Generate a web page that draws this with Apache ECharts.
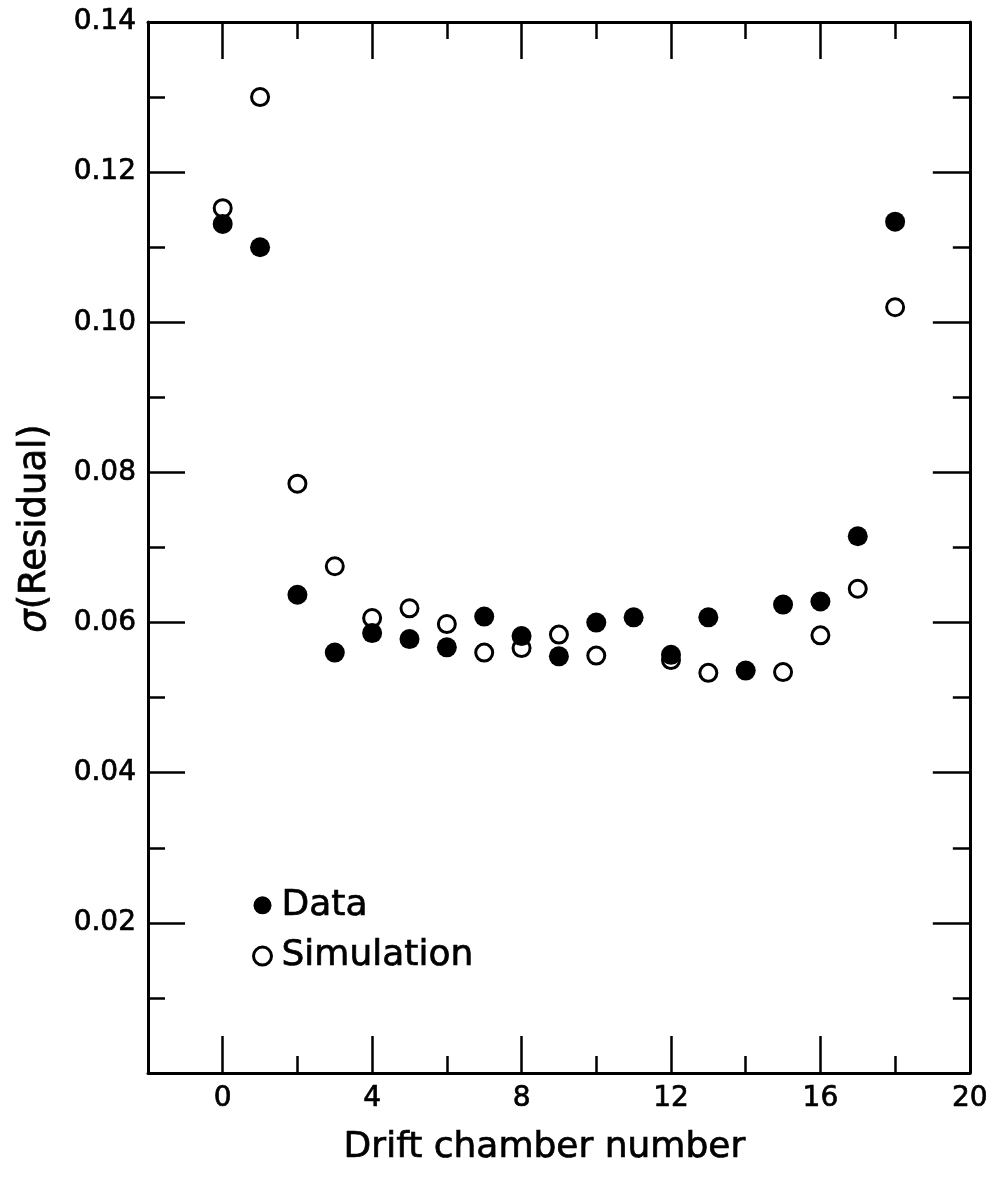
<!DOCTYPE html>
<html>
<head>
<meta charset="utf-8">
<script src="https://cdn.jsdelivr.net/npm/echarts@6/dist/echarts.min.js"></script>
<style>
  html, body { margin: 0; padding: 0; background: #ffffff; }
  #chart { width: 991px; height: 1182px; }
</style>
</head>
<body>
<div id="chart"></div>
<script>
// Drift chamber index
const chambers = [0, 1, 2, 3, 4, 5, 6, 7, 8, 9, 10, 11, 12, 13, 14, 15, 16, 17, 18];
// Measured residual width per chamber
const dataSigma = [0.1131, 0.1100, 0.0637, 0.0560, 0.0586, 0.0578, 0.0567, 0.0608, 0.0582, 0.0555,
                   0.0600, 0.0607, 0.0557, 0.0607, 0.0536, 0.0624, 0.0628, 0.0715, 0.1134];
// Simulated residual width per chamber (null where no point is shown)
const simSigma = [0.1152, 0.1300, 0.0785, 0.0675, 0.0606, 0.0619, 0.0598, 0.0560, 0.0566, 0.0584,
                  0.0556, null, 0.0550, 0.0533, null, 0.0534, 0.0583, 0.0645, 0.1020];

// Axis ticks and labels
const xMajorTicks = [0, 4, 8, 12, 16, 20];
const xMinorTicks = [2, 6, 10, 14, 18];
const yMajorTicks = [0.02, 0.04, 0.06, 0.08, 0.10, 0.12, 0.14];
const yMinorTicks = [0.01, 0.03, 0.05, 0.07, 0.09, 0.11, 0.13];

const FONT = 'DejaVu Sans';
const INK = '#000000';
// a thin outline in the text colour gives the lettering a heavier weight
const HEAVY = { textBorderColor: INK, textBorderWidth: 0.7 };

const toPairs = (ys) => chambers.map((c, i) => [c, ys[i]]).filter(p => p[1] !== null);

function xAxisDef(position, ticks, len, withLine, withLabels) {
  return {
    type: 'value', position: position, min: -2, max: 20,
    splitLine: { show: false },
    axisLine: { show: withLine, onZero: false, lineStyle: { color: INK, width: 3 } },
    axisTick: { show: true, inside: true, length: len, customValues: ticks,
                lineStyle: { color: INK, width: 2.5 } },
    axisLabel: withLabels ? Object.assign({
      show: true, customValues: xMajorTicks, margin: 12,
      color: INK, fontFamily: FONT, fontSize: 28
    }, HEAVY) : { show: false }
  };
}

function yAxisDef(position, ticks, len, withLine, withLabels) {
  return {
    type: 'value', position: position, min: 0, max: 0.14,
    splitLine: { show: false },
    axisLine: { show: withLine, onZero: false, lineStyle: { color: INK, width: 3 } },
    axisTick: { show: true, inside: true, length: len, customValues: ticks,
                lineStyle: { color: INK, width: 2.5 } },
    axisLabel: withLabels ? Object.assign({
      show: true, customValues: yMajorTicks, margin: 12,
      color: INK, fontFamily: FONT, fontSize: 28,
      formatter: (v) => v.toFixed(2)
    }, HEAVY) : { show: false }
  };
}

const xBottom = xAxisDef('bottom', xMajorTicks, 37, true, true);
xBottom.name = 'Drift chamber number';
xBottom.nameLocation = 'middle';
xBottom.nameGap = 57;
xBottom.nameTextStyle = Object.assign({ color: INK, fontFamily: FONT, fontSize: 36, padding: [0, 29, 0, 0] }, HEAVY);

const yLeft = yAxisDef('left', yMajorTicks, 37, true, true);
yLeft.name = '{s|σ}(Residual)';
yLeft.nameLocation = 'middle';
yLeft.nameGap = 94;
yLeft.nameTextStyle = Object.assign({
  color: INK, fontFamily: FONT, fontSize: 37, padding: [0, 0, 0, 38],
  rich: { s: Object.assign({ color: INK, fontFamily: FONT, fontSize: 37, fontStyle: 'italic' }, HEAVY) }
}, HEAVY);

const chart = echarts.init(document.getElementById('chart'), null, { renderer: 'canvas' });
chart.setOption({
  animation: false,
  backgroundColor: '#ffffff',
  grid: { left: 148, right: 15, top: 22, bottom: 109, containLabel: false },
  xAxis: [
    xBottom,
    xAxisDef('bottom', xMinorTicks, 17, false, false),
    xAxisDef('top', xMajorTicks, 37, true, false),
    xAxisDef('top', xMinorTicks, 17, false, false)
  ],
  yAxis: [
    yLeft,
    yAxisDef('left', yMinorTicks, 17, false, false),
    yAxisDef('right', yMajorTicks, 37, true, false),
    yAxisDef('right', yMinorTicks, 17, false, false)
  ],
  legend: {
    orient: 'vertical', left: 247, top: 882,
    itemWidth: 18, itemHeight: 18, itemGap: 14,
    data: [
      { name: 'Data', icon: 'circle' },
      { name: 'Simulation', icon: 'circle', itemStyle: { color: '#ffffff', borderColor: INK, borderWidth: 3 } }
    ],
    textStyle: Object.assign({ color: INK, fontFamily: FONT, fontSize: 36, padding: [0, 0, 0, 5] }, HEAVY)
  },
  series: [
    {
      name: 'Simulation', type: 'scatter', xAxisIndex: 0, yAxisIndex: 0, z: 2,
      symbol: 'circle', symbolSize: 17,
      itemStyle: { color: '#ffffff', borderColor: INK, borderWidth: 3, opacity: 1 },
      data: toPairs(simSigma)
    },
    {
      name: 'Data', type: 'scatter', xAxisIndex: 0, yAxisIndex: 0, z: 3,
      symbol: 'circle', symbolSize: 20,
      itemStyle: { color: INK, opacity: 1 },
      data: toPairs(dataSigma)
    }
  ]
});
</script>
</body>
</html>
